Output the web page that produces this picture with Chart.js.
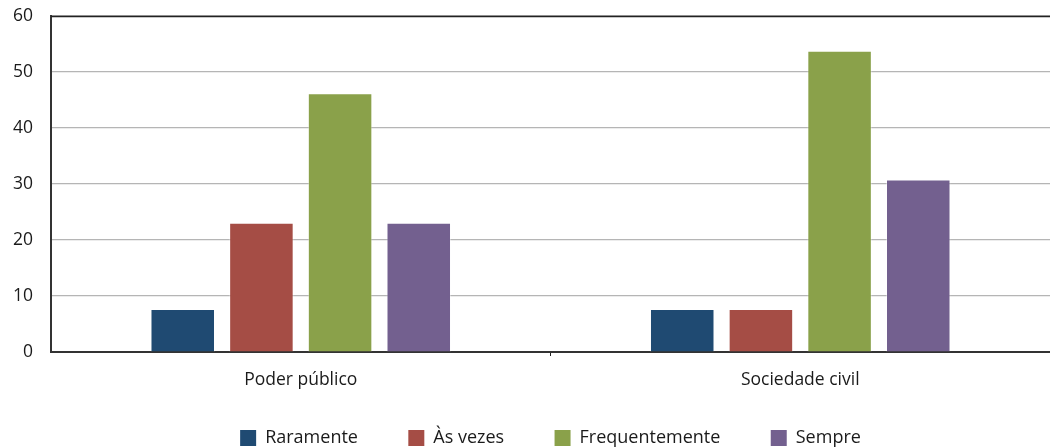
<!DOCTYPE html>
<html><head><meta charset="utf-8">
<script src="https://cdn.jsdelivr.net/npm/chart.js@4"></script>
<style>html,body{margin:0;padding:0;background:#fff}#w{width:1050px;height:448px;position:relative}</style>
</head><body><div id="w"><canvas id="c"></canvas></div>
<script>
const categories = ["Poder público", "Sociedade civil"];
const raramente = [7.7, 7.7];
const asVezes = [23.1, 7.7];
const frequentemente = [46.2, 53.8];
const sempre = [23.1, 30.8];
const seriesNames = ["Raramente", "Às vezes", "Frequentemente", "Sempre"];
const yTicks = [0, 10, 20, 30, 40, 50, 60];

const colors = ["#1F4A72", "#A54D45", "#8AA14A", "#73608F"];
const font = {family: "'Open Sans', 'Noto Sans', sans-serif", size: 17.5};
const legendFont = {family: "'Open Sans', 'Noto Sans', sans-serif", size: 18};
Chart.defaults.font.family = font.family;
Chart.defaults.color = "#1a1a1a";

const topBorder = {
  id: 'topBorder',
  afterDraw(chart) {
    const {ctx, chartArea} = chart;
    const y = chart.scales.y.getPixelForValue(yTicks[yTicks.length-1]);
    ctx.save();
    ctx.strokeStyle = "#222";
    ctx.lineWidth = 1.5;
    ctx.beginPath();
    ctx.moveTo(chartArea.left, Math.round(y)+0.5);
    ctx.lineTo(chartArea.right, Math.round(y)+0.5);
    ctx.stroke();
    ctx.restore();
  }
};

const gapSpaces = "\u00A0\u00A0\u00A0\u00A0\u00A0";

new Chart(document.getElementById('c'), {
  type: 'bar',
  data: {
    labels: categories,
    datasets: [raramente, asVezes, frequentemente, sempre].map((d, i) => ({
      label: seriesNames[i], data: d, backgroundColor: colors[i],
      borderColor: "rgba(255,255,255,0.35)", borderWidth: 1,
      categoryPercentage: 0.63, barPercentage: 0.82
    }))
  },
  options: {
    responsive: true, maintainAspectRatio: false, animation: false,
    layout: {padding: {top: 16, right: 0, left: 0, bottom: 0}},
    plugins: {
      tooltip: {enabled: false},
      legend: {
        position: 'bottom',
        fullSize: false,
        maxHeight: 46,
        labels: {
          boxWidth: 16, boxHeight: 16, padding: 27, font: legendFont, color: "#1a1a1a",
          generateLabels(chart) {
            const items = Chart.defaults.plugins.legend.labels.generateLabels(chart);
            items.forEach((it, i) => { if (i < items.length - 1) it.text = it.text + gapSpaces; it.lineWidth = 0; });
            return items;
          }
        }
      }
    },
    scales: {
      x: {
        grid: {drawOnChartArea: false, tickLength: 4, offset: true,
               color: (c) => c.index === 1 ? "#222" : "rgba(0,0,0,0)"},
        border: {color: "#333", width: 2},
        ticks: {font: font, padding: 14, color: "#1a1a1a"},
        afterFit(s) { s.height = 50; s.paddingLeft = 0; s.paddingRight = 0; }
      },
      y: {
        min: 0, max: 60,
        afterBuildTicks(s) { s.ticks = yTicks.map(v => ({value: v})); },
        grid: {color: "#b5b5b5", lineWidth: 1.2, drawTicks: false},
        border: {color: "#333", width: 2},
        ticks: {font: font, padding: 18, color: "#1a1a1a"},
        afterFit(s) { s.width = 51; s.paddingTop = 0; s.paddingBottom = 0; }
      }
    }
  },
  plugins: [topBorder]
});
</script></body></html>
